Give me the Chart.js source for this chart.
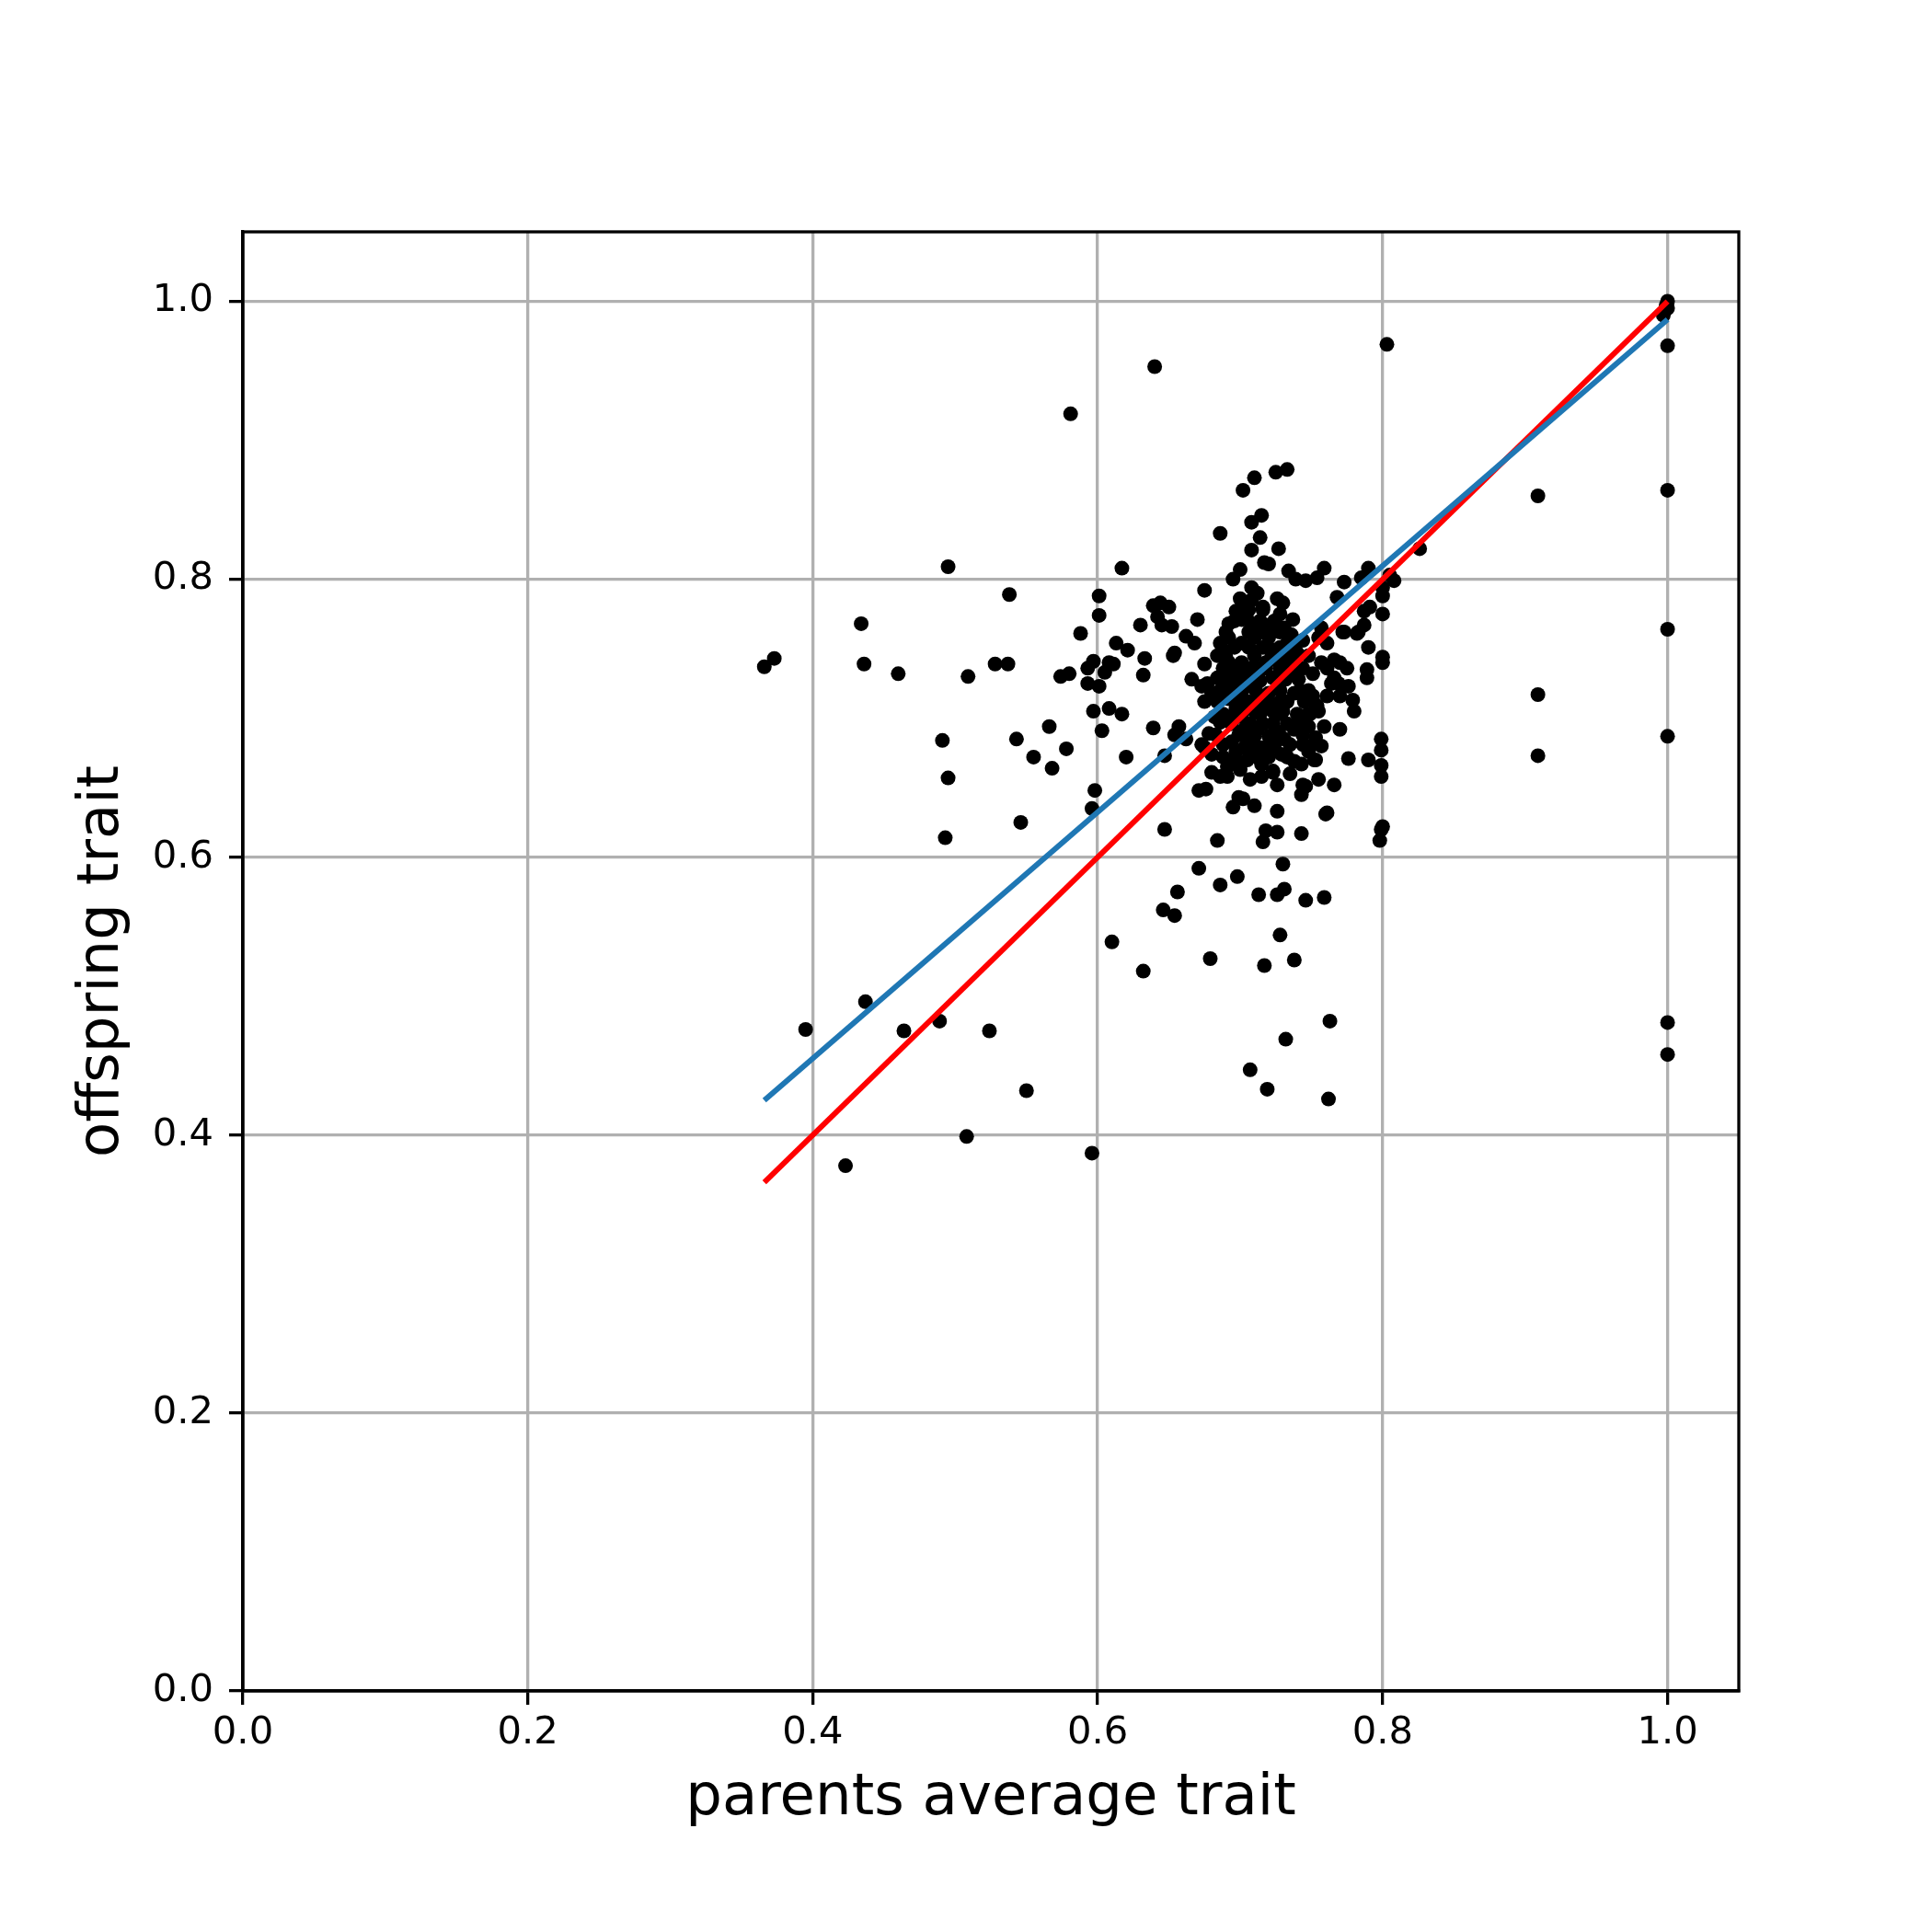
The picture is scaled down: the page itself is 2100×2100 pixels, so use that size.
<!DOCTYPE html>
<html lang="en">
<head>
    <meta charset="UTF-8">
    <title>Parents vs offspring trait</title>
    <script src="https://cdn.jsdelivr.net/npm/chart.js"></script>
    <style>
        html, body { margin: 0; padding: 0; background: #fff; }
        #wrap { width: 2100px; height: 2100px; }
    </style>
</head>
<body>
    <div id="wrap">
        <canvas id="scatterChart" width="2100" height="2100"></canvas>
    </div>

    <script>
        // parents average trait (x) and offspring trait (y)
        const parentAvg = [
            0.581, 0.495, 0.538, 0.434, 0.373, 0.366, 0.436, 0.460, 0.509, 0.528,
            0.537, 0.588, 0.574, 0.580, 0.593, 0.597, 0.593, 0.601, 0.597, 0.603,
            0.566, 0.578, 0.543, 0.491, 0.555, 0.568, 0.495, 0.598, 0.596, 0.546,
            0.493, 0.437, 0.395, 0.464, 0.489, 0.524, 0.550, 0.508, 0.423, 0.596,
            0.640, 0.803, 0.733, 0.725, 0.710, 0.702, 0.715, 0.708, 0.686, 0.714,
            0.708, 0.727, 0.717, 0.617, 0.700, 0.695, 0.734, 0.739, 0.746, 0.754,
            0.759, 0.773, 0.790, 0.785, 0.808, 0.826, 0.675, 0.708, 0.601, 0.800,
            0.708, 0.703, 0.726, 0.730, 0.768, 0.791, 0.787, 0.800, 0.639, 0.644,
            0.650, 0.601, 0.642, 0.645, 0.652, 0.630, 0.670, 0.697, 0.692, 0.701,
            0.728, 0.737, 0.662, 0.668, 0.757, 0.773, 0.782, 0.787, 0.790, 0.800,
            0.800, 0.789, 0.789, 0.779, 0.780, 0.770, 0.769, 0.770, 0.613, 0.621,
            0.608, 0.611, 0.605, 0.633, 0.632, 0.653, 0.654, 0.675, 0.666, 0.608,
            0.617, 0.639, 0.657, 0.654, 0.662, 0.620, 0.647, 0.671, 0.676, 0.647,
            0.684, 0.695, 0.699, 0.702, 0.710, 0.726, 0.716, 0.718, 0.726, 0.743,
            0.761, 0.799, 0.798, 0.707, 0.723, 0.744, 0.743, 0.755, 0.766, 0.752,
            0.738, 0.743, 0.776, 0.790, 0.799, 0.799, 0.799, 0.799, 0.770, 0.753,
            0.729, 0.715, 0.686, 0.691, 0.680, 0.675, 0.697, 0.703, 0.710, 0.718,
            0.731, 0.727, 0.744, 0.746, 0.754, 0.751, 0.738, 0.742, 0.730, 0.733,
            0.723, 0.720, 0.712, 0.705, 0.694, 0.688, 0.678, 0.673, 0.701, 0.710,
            0.718, 0.686, 0.682, 0.675, 0.680, 0.684, 0.673, 0.677, 0.692, 0.701,
            0.710, 0.720, 0.714, 0.723, 0.732, 0.740, 0.744, 0.751, 0.757, 0.761,
            0.766, 0.748, 0.740, 0.733, 0.744, 0.755, 0.761, 0.725, 0.718, 0.710,
            0.701, 0.692, 0.688, 0.686, 0.684, 0.692, 0.701, 0.710, 0.718, 0.727,
            0.695, 0.703, 0.712, 0.692, 0.705, 0.710, 0.705, 0.701, 0.714, 0.720,
            0.731, 0.736, 0.723, 0.736, 0.740, 0.738, 0.727, 0.723, 0.714, 0.705,
            0.697, 0.692, 0.703, 0.710, 0.697, 0.714, 0.720, 0.705, 0.691, 0.680,
            0.766, 0.775, 0.764, 0.776, 0.761, 0.755, 0.748, 0.759, 0.735, 0.744,
            0.671, 0.686, 0.698, 0.730, 0.656, 0.713, 0.726, 0.731, 0.746, 0.759,
            0.646, 0.654, 0.728, 0.610, 0.679, 0.717, 0.738, 0.632, 0.763, 0.732,
            0.707, 0.719, 0.762, 1.000, 0.999, 0.998, 1.000, 0.997, 1.000, 0.909,
            1.000, 1.000, 0.909, 1.000, 0.909, 1.000, 1.000, 0.772, 0.783, 0.753,
            0.753, 0.746, 0.723, 0.760, 0.800, 0.720, 0.805, 0.800,
            // dense core of the cloud
            0.706, 0.716, 0.696, 0.714, 0.724, 0.690, 0.706, 0.728, 0.696, 0.706,
            0.716, 0.728, 0.738, 0.690, 0.722, 0.732, 0.688, 0.698, 0.707, 0.718,
            0.728, 0.690, 0.700, 0.708, 0.732, 0.741, 0.686, 0.697, 0.711, 0.728,
            0.748, 0.684, 0.697, 0.705, 0.718, 0.733, 0.745, 0.688, 0.714, 0.727,
            0.749, 0.694, 0.707, 0.716, 0.740, 0.683, 0.699, 0.727, 0.744, 0.707,
            0.724, 0.749, 0.688, 0.712, 0.733, 0.726, 0.735, 0.715, 0.700, 0.748,
            0.757, 0.712, 0.700, 0.716
        ];
        const offspring = [
            0.919, 0.809, 0.789, 0.768, 0.743, 0.737, 0.739, 0.732, 0.730, 0.739,
            0.739, 0.761, 0.730, 0.732, 0.736, 0.741, 0.725, 0.723, 0.705, 0.691,
            0.694, 0.678, 0.685, 0.684, 0.672, 0.664, 0.657, 0.648, 0.635, 0.625,
            0.614, 0.496, 0.476, 0.475, 0.482, 0.475, 0.432, 0.399, 0.378, 0.387,
            0.953, 0.969, 0.879, 0.877, 0.873, 0.864, 0.846, 0.841, 0.833, 0.830,
            0.821, 0.822, 0.812, 0.808, 0.807, 0.800, 0.806, 0.800, 0.799, 0.801,
            0.808, 0.798, 0.808, 0.801, 0.799, 0.822, 0.792, 0.794, 0.788, 0.788,
            0.785, 0.782, 0.786, 0.783, 0.787, 0.780, 0.777, 0.775, 0.781, 0.783,
            0.780, 0.774, 0.773, 0.767, 0.766, 0.767, 0.771, 0.777, 0.768, 0.771,
            0.775, 0.771, 0.759, 0.754, 0.765, 0.762, 0.761, 0.767, 0.751, 0.744,
            0.740, 0.735, 0.729, 0.713, 0.705, 0.740, 0.725, 0.716, 0.754, 0.749,
            0.740, 0.739, 0.733, 0.743, 0.731, 0.745, 0.747, 0.739, 0.728, 0.707,
            0.703, 0.693, 0.694, 0.688, 0.685, 0.672, 0.673, 0.648, 0.649, 0.620,
            0.612, 0.636, 0.643, 0.642, 0.637, 0.633, 0.611, 0.619, 0.618, 0.617,
            0.632, 0.620, 0.612, 0.656, 0.661, 0.652, 0.645, 0.656, 0.652, 0.670,
            0.669, 0.667, 0.671, 0.670, 0.666, 0.658, 0.685, 0.677, 0.692, 0.686,
            0.674, 0.667, 0.658, 0.665, 0.674, 0.679, 0.670, 0.679, 0.676, 0.679,
            0.685, 0.690, 0.697, 0.702, 0.709, 0.716, 0.718, 0.720, 0.705, 0.696,
            0.696, 0.687, 0.692, 0.685, 0.683, 0.681, 0.689, 0.681, 0.701, 0.705,
            0.707, 0.697, 0.701, 0.712, 0.718, 0.729, 0.723, 0.725, 0.714, 0.716,
            0.712, 0.718, 0.727, 0.729, 0.732, 0.732, 0.736, 0.732, 0.740, 0.736,
            0.729, 0.745, 0.747, 0.754, 0.756, 0.758, 0.754, 0.763, 0.767, 0.758,
            0.754, 0.758, 0.749, 0.754, 0.745, 0.740, 0.740, 0.745, 0.740, 0.740,
            0.732, 0.732, 0.736, 0.723, 0.723, 0.767, 0.771, 0.776, 0.762, 0.758,
            0.765, 0.760, 0.749, 0.740, 0.703, 0.692, 0.711, 0.705, 0.716, 0.709,
            0.707, 0.701, 0.692, 0.687, 0.676, 0.679, 0.672, 0.670, 0.658, 0.661,
            0.742, 0.736, 0.725, 0.723, 0.716, 0.705, 0.694, 0.694, 0.681, 0.681,
            0.592, 0.580, 0.586, 0.595, 0.575, 0.573, 0.573, 0.577, 0.569, 0.571,
            0.562, 0.558, 0.544, 0.539, 0.527, 0.522, 0.526, 0.518, 0.482, 0.469,
            0.447, 0.433, 0.426, 1.000, 0.997, 0.993, 0.995, 0.990, 0.968, 0.860,
            0.864, 0.764, 0.717, 0.687, 0.673, 0.481, 0.458, 0.762, 0.762, 0.707,
            0.670, 0.651, 0.662, 0.631, 0.622, 0.811, 0.803, 0.794,
            // dense core of the cloud
            0.778, 0.778, 0.770, 0.770, 0.770, 0.762, 0.762, 0.762, 0.751, 0.751,
            0.751, 0.751, 0.751, 0.744, 0.744, 0.744, 0.736, 0.736, 0.736, 0.736,
            0.736, 0.728, 0.728, 0.728, 0.728, 0.728, 0.720, 0.720, 0.720, 0.720,
            0.720, 0.712, 0.712, 0.712, 0.712, 0.712, 0.712, 0.703, 0.703, 0.703,
            0.703, 0.696, 0.696, 0.696, 0.696, 0.688, 0.688, 0.688, 0.688, 0.680,
            0.680, 0.680, 0.672, 0.672, 0.672, 0.652, 0.660, 0.658, 0.663, 0.676,
            0.680, 0.790, 0.786, 0.780
        ];

        // fitted regression line and the y = x reference line (end points)
        const lineX = [0.366, 1.0];
        const fitY = [0.425, 0.987];
        const identityY = [0.366, 1.0];

        const axisTicks = [0.0, 0.2, 0.4, 0.6, 0.8, 1.0];

        const tickFont = { family: 'DejaVu Sans', size: 41.7 };
        const titleFont = { family: 'DejaVu Sans', size: 62.5, lineHeight: 1.2 };

        function toPoints(xs, ys) {
            return xs.map((x, i) => ({ x: x, y: ys[i] }));
        }

        // matplotlib style frame: all four spines
        const framePlugin = {
            id: 'frame',
            afterDraw(chart) {
                const { ctx, chartArea } = chart;
                ctx.save();
                ctx.strokeStyle = '#000';
                ctx.lineWidth = 3.3;
                ctx.strokeRect(chartArea.left, chartArea.top,
                    chartArea.right - chartArea.left, chartArea.bottom - chartArea.top);
                ctx.restore();
            }
        };

        function axisOptions(titleText, isX) {
            return {
                type: 'linear',
                min: 0,
                max: 1.05,
                afterBuildTicks: s => { s.ticks = axisTicks.map(v => ({ value: v })); },
                afterFit: s => {
                    if (isX) { s.height = 262; } else { s.width = 264; }
                },
                grid: {
                    color: '#b0b0b0',
                    lineWidth: 3.3,
                    tickColor: '#000',
                    tickLength: 15,
                    tickWidth: 3.3
                },
                border: { color: '#000', width: 3.3 },
                ticks: {
                    color: '#000',
                    font: tickFont,
                    padding: isX ? 6 : 17,
                    maxRotation: 0,
                    callback: v => v.toFixed(1)
                },
                title: {
                    display: true,
                    text: titleText,
                    color: '#000',
                    font: titleFont,
                    padding: isX ? { top: 0, bottom: 107 } : { top: 74, bottom: 0 }
                }
            };
        }

        new Chart(document.getElementById('scatterChart'), {
            type: 'scatter',
            data: {
                datasets: [
                    {
                        label: 'fit',
                        type: 'line',
                        data: toPoints(lineX, fitY),
                        borderColor: '#1f77b4',
                        borderWidth: 6,
                        pointRadius: 0,
                        fill: false,
                        order: 0
                    },
                    {
                        label: 'y = x',
                        type: 'line',
                        data: toPoints(lineX, identityY),
                        borderColor: '#ff0000',
                        borderWidth: 6,
                        pointRadius: 0,
                        fill: false,
                        order: 1
                    },
                    {
                        label: 'offspring',
                        data: toPoints(parentAvg, offspring),
                        backgroundColor: '#000',
                        borderWidth: 0,
                        pointRadius: 8,
                        pointHoverRadius: 8,
                        order: 2
                    }
                ]
            },
            options: {
                responsive: false,
                animation: false,
                layout: { padding: { top: 252, right: 210, bottom: 0, left: 0 } },
                plugins: {
                    legend: { display: false },
                    tooltip: { enabled: false }
                },
                scales: {
                    x: axisOptions('parents average trait', true),
                    y: axisOptions('offspring trait', false)
                }
            },
            plugins: [framePlugin]
        });
    </script>
</body>
</html>
